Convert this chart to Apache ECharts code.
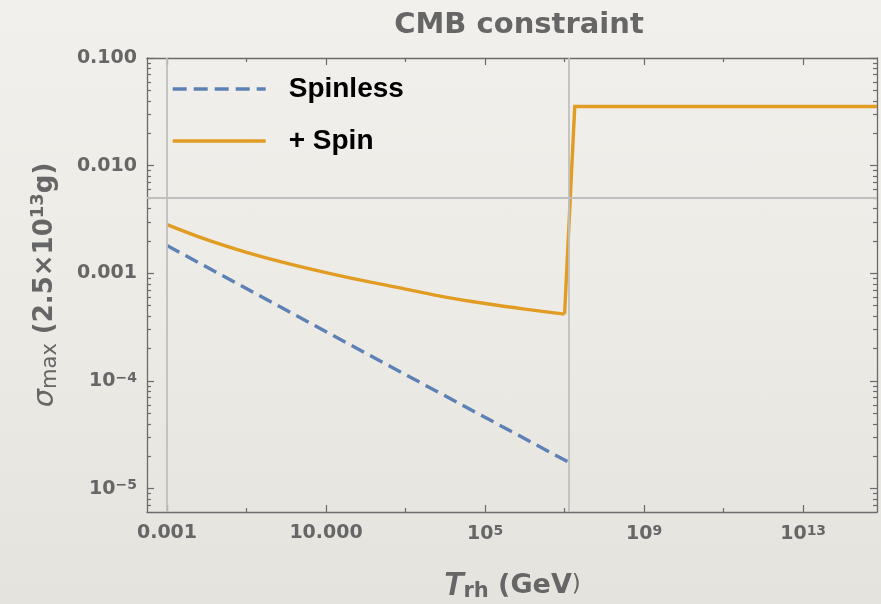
<!DOCTYPE html>
<html>
<head>
<meta charset="utf-8">
<script src="https://cdn.jsdelivr.net/npm/echarts@6/dist/echarts.min.js"></script>
<style>
html,body{margin:0;padding:0;}
#chart{width:881px;height:604px;background:linear-gradient(180deg,#f2f0ec 0%,#edebe6 50%,#e5e3de 100%);}
</style>
</head>
<body>
<div id="chart"></div>
<script>
// ---- data (raw values, plotted on log-log axes) ----
const spinlessT = [1e-3, 1e2, 1.3e7];
const spinlessSigma = [0.00181, 1.81e-4, 1.75e-5];

// smooth part of the "+ Spin" curve
const spinT = [1e-3, 1e-2, 1e-1, 1, 10, 100, 1e3, 1e4, 1e5, 1e6, 1e7];
const spinSigma = [0.002838, 0.002056, 0.001567, 0.001245, 0.001016, 8.45e-4, 7.14e-4, 6.01e-4, 5.24e-4, 4.65e-4, 4.18e-4];
// jump and plateau of the "+ Spin" curve
const spinJumpT = [1e7, 1.8e7, 7.2e14];
const spinJumpSigma = [4.18e-4, 0.0354, 0.0354];

const seriesNames = ['Spinless', '+ Spin'];

const xRange = [3.14e-4, 7.2e14];
const yRange = [6.07e-6, 0.1];

const xMajorTicks = [1e-3, 10, 1e5, 1e9, 1e13];
const xMajorLabels = ['0.001', '10.000', '10{sup|5}', '10{sup|9}', '10{sup|13}'];
const xMinorTicks = [1e-1, 1e3, 1e7, 1e11];

const yMajorTicks = [0.1, 0.01, 0.001, 1e-4, 1e-5];
const yMajorLabels = ['0.100', '0.010', '0.001', '10{sup|\u22124}', '10{sup|\u22125}'];
const yMinorMultipliers = [2, 3, 4, 5, 6, 7, 8, 9];
const yMinorDecades = [1e-6, 1e-5, 1e-4, 1e-3, 1e-2];

const gridLinesX = [1e-3, 1.3e7];
const gridLinesY = [0.005];

// ---- build ----
const L = Math.log10;
const yMinorTicks = [];
yMinorDecades.forEach(d => yMinorMultipliers.forEach(m => {
  const v = d * m;
  if (v >= yRange[0] && v <= yRange[1]) yMinorTicks.push(v);
}));

const frameColor = '#6b6b6b';
const labelColor = '#666666';
const labelFont = 'DejaVu Sans';
const blue = '#5e81b5';
const orange = '#e19c24';

function fmtFromList(vals, labels) {
  return function (v) {
    for (let i = 0; i < vals.length; i++) {
      if (Math.abs(L(vals[i]) - v) < 1e-6) return labels[i];
    }
    return '';
  };
}

const labelRich = {
  sup: { fontSize: 14, fontWeight: 'bold', fontFamily: labelFont, color: labelColor, verticalAlign: 'top', padding: [0, 0, 6, 0] }
};

function xAxisDef(pos, major, showLabels) {
  return {
    type: 'value', position: pos, min: L(xRange[0]), max: L(xRange[1]),
    axisLine: { show: major, onZero: false, lineStyle: { color: frameColor, width: 1.3 } },
    axisTick: { show: true, inside: true, length: major ? 7 : 4,
      customValues: (major ? xMajorTicks : xMinorTicks).map(L),
      lineStyle: { color: frameColor, width: 1.2 } },
    axisLabel: showLabels ? {
      show: true, customValues: xMajorTicks.map(L), margin: 12,
      formatter: fmtFromList(xMajorTicks, xMajorLabels),
      fontFamily: labelFont, fontWeight: 'bold', fontSize: 19, color: labelColor,
      rich: labelRich
    } : { show: false },
    splitLine: { show: false }
  };
}
function yAxisDef(pos, major, showLabels) {
  return {
    type: 'value', position: pos, min: L(yRange[0]), max: L(yRange[1]),
    axisLine: { show: major, onZero: false, lineStyle: { color: frameColor, width: 1.3 } },
    axisTick: { show: true, inside: true, length: major ? 7 : 4,
      customValues: (major ? yMajorTicks : yMinorTicks).map(L),
      lineStyle: { color: frameColor, width: 1.2 } },
    axisLabel: showLabels ? {
      show: true, customValues: yMajorTicks.map(L), margin: 10,
      formatter: fmtFromList(yMajorTicks, yMajorLabels),
      fontFamily: labelFont, fontWeight: 'bold', fontSize: 19, color: labelColor,
      rich: labelRich
    } : { show: false },
    splitLine: { show: false }
  };
}

const xAxes = [
  xAxisDef('bottom', true, true),
  xAxisDef('bottom', false, false),
  xAxisDef('top', true, false),
  xAxisDef('top', false, false)
];
xAxes[0].name = '{it|T}{sub|rh}{b| (GeV}{p|)}';
xAxes[0].nameLocation = 'middle';
xAxes[0].nameGap = 57;
xAxes[0].nameTextStyle = {
  rich: {
    it: { fontFamily: 'Liberation Sans', fontStyle: 'italic', fontWeight: 'bold', fontSize: 33, color: labelColor },
    sub: { fontFamily: labelFont, fontWeight: 'bold', fontSize: 21, color: labelColor, verticalAlign: 'bottom', padding: [12, 0, 0, 0] },
    b: { fontFamily: labelFont, fontWeight: 'bold', fontSize: 27, color: labelColor },
    p: { fontFamily: labelFont, fontSize: 23, color: labelColor }
  }
};

const yAxes = [
  yAxisDef('left', true, true),
  yAxisDef('left', false, false),
  yAxisDef('right', true, false),
  yAxisDef('right', false, false)
];
yAxes[0].name = '{it|\u03c3}{sub|max}{b| (2.5\u00d710}{sup|13}{b|g)}';
yAxes[0].nameLocation = 'middle';
yAxes[0].nameRotate = 90;
yAxes[0].nameGap = 86;
yAxes[0].nameTextStyle = {
  rich: {
    it: { fontFamily: 'DejaVu Sans', fontStyle: 'italic', fontSize: 29, color: labelColor },
    sub: { fontFamily: labelFont, fontSize: 21, color: labelColor, verticalAlign: 'bottom', padding: [11, 0, 0, 0] },
    b: { fontFamily: labelFont, fontWeight: 'bold', fontSize: 26, color: labelColor },
    sup: { fontFamily: labelFont, fontWeight: 'bold', fontSize: 18, color: labelColor, verticalAlign: 'top', padding: [0, 0, 12, 0] }
  }
};

const toPairs = (xs, ys) => xs.map((x, i) => [L(x), L(ys[i])]);

const option = {
  animation: false,
  backgroundColor: 'transparent',
  title: {
    text: 'CMB constraint', left: 514, top: 6, textAlign: 'center',
    textStyle: { fontFamily: labelFont, fontWeight: 'bold', fontSize: 29, color: '#666666' }
  },
  legend: {
    orient: 'vertical', left: 166, top: 70,
    itemWidth: 93, itemHeight: 14, itemGap: 24,
    data: seriesNames,
    itemStyle: { opacity: 0 },
    lineStyle: { width: 3.4 },
    textStyle: { fontFamily: 'Liberation Sans', fontWeight: 'bold', fontSize: 28, color: '#000000', padding: [0, 0, 0, 18], lineHeight: 26 }
  },
  grid: { left: 147, right: 4, top: 58, bottom: 92, containLabel: false, outerBoundsMode: 'none' },
  xAxis: xAxes,
  yAxis: yAxes,
  series: [
    {
      name: '_grid', type: 'line', data: [], z: 1, silent: true,
      markLine: {
        silent: true, symbol: 'none', label: { show: false }, animation: false,
        lineStyle: { color: '#bfbfbf', width: 1.8, type: 'solid' },
        data: gridLinesX.map(v => ({ xAxis: L(v) })).concat(gridLinesY.map(v => ({ yAxis: L(v) })))
      }
    },
    {
      name: seriesNames[0], type: 'line', z: 3, symbol: 'none', smooth: false,
      data: toPairs(spinlessT, spinlessSigma),
      itemStyle: { color: blue },
      lineStyle: { color: blue, width: 3.4, type: [14, 7], cap: 'butt' }
    },
    {
      name: seriesNames[1], type: 'line', z: 4, symbol: 'none', smooth: 0.35,
      data: toPairs(spinT, spinSigma),
      itemStyle: { color: orange },
      lineStyle: { color: orange, width: 3.4, join: 'round' }
    },
    {
      name: seriesNames[1], type: 'line', z: 4, symbol: 'none', smooth: false,
      data: toPairs(spinJumpT, spinJumpSigma),
      itemStyle: { color: orange },
      lineStyle: { color: orange, width: 3.4, join: 'miter' }
    }
  ]
};

const chart = echarts.init(document.getElementById('chart'), null, { renderer: 'canvas' });
chart.setOption(option);
</script>
</body>
</html>
